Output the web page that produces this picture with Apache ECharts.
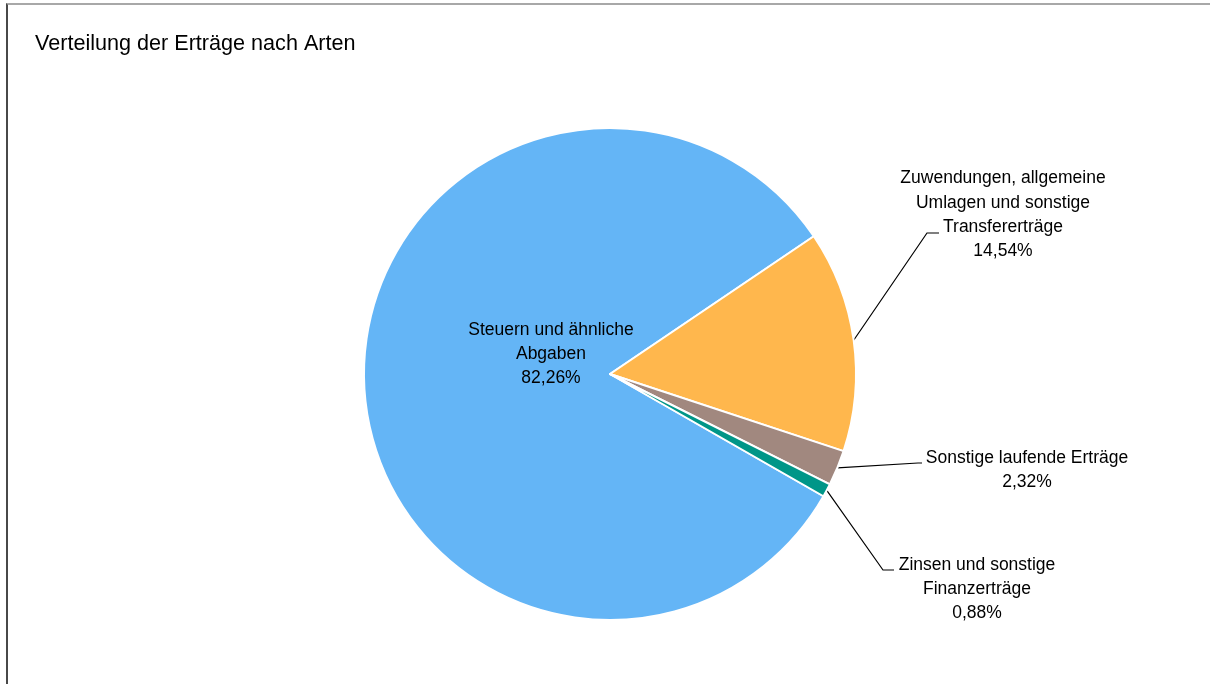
<!DOCTYPE html>
<html><head><meta charset="utf-8">
<script src="https://cdn.jsdelivr.net/npm/echarts@6/dist/echarts.min.js"></script>
<style>
html,body{margin:0;padding:0;background:#fff;overflow:hidden;}
#c{width:1210px;height:684px;position:absolute;left:0;top:0;}
#frame{position:absolute;left:6px;top:3px;width:1400px;height:900px;border-top:2px solid #a8a8a8;border-left:2px solid #484848;pointer-events:none;}
</style>
</head><body><div id="c"></div><div id="frame"></div>
<script>
const chartTitle = 'Verteilung der Erträge nach Arten';
const categories = [
  'Steuern und ähnliche\nAbgaben',
  'Zuwendungen, allgemeine\nUmlagen und sonstige\nTransfererträge',
  'Sonstige laufende Erträge',
  'Zinsen und sonstige\nFinanzerträge'
];
const values = [82.26, 14.54, 2.32, 0.88];
const colors = ['#64B5F6', '#FFB74D', '#A1887F', '#009688'];

// label text anchors and leader-line bends (label placement only)
const labelPos = [[551, 354], [1003, 215], [1027, 470], [977, 589]];
const leaderBend = [null, [[927, 233], [939, 233]], [[918, 463], [922, 463]], [[883, 570], [894, 570]]];

const FONT = '"Liberation Sans", Arial, sans-serif';
const chart = echarts.init(document.getElementById('c'), null, {renderer: 'canvas'});

const data = categories.map((name, i) => ({
  name: name,
  value: values[i],
  itemStyle: {color: colors[i]},
  label: i === 0 ? {position: 'inside'} : {position: 'outside'},
  labelLine: {show: i !== 0}
}));

chart.setOption({
  animation: false,
  backgroundColor: '#fff',
  title: {
    text: chartTitle,
    left: 30,
    top: 28,
    textStyle: {fontFamily: FONT, fontSize: 21.6, fontWeight: 'normal', color: '#000', lineHeight: 22}
  },
  series: [{
    type: 'pie',
    center: [610, 374],
    radius: 246,
    startAngle: 330.2,
    clockwise: true,
    avoidLabelOverlap: false,
    minShowLabelAngle: 0,
    itemStyle: {borderColor: '#fff', borderWidth: 2},
    label: {
      show: true,
      color: '#000',
      fontFamily: FONT,
      fontSize: 17.5,
      lineHeight: 24.3,
      align: 'center',
      formatter: p => p.name + '\n' + p.value.toFixed(2).replace('.', ',') + '%'
    },
    labelLine: {show: true, lineStyle: {color: '#000', width: 1.2}, length: 20, length2: 10},
    labelLayout: function (params) {
      const i = params.dataIndex;
      const p = labelPos[i];
      const res = {x: p[0], y: p[1], align: 'center', verticalAlign: 'middle'};
      if (leaderBend[i] && params.labelLinePoints) {
        res.labelLinePoints = [params.labelLinePoints[0], leaderBend[i][0], leaderBend[i][1]];
      }
      return res;
    },
    emphasis: {disabled: true},
    data: data
  }]
});
</script>
</body></html>
